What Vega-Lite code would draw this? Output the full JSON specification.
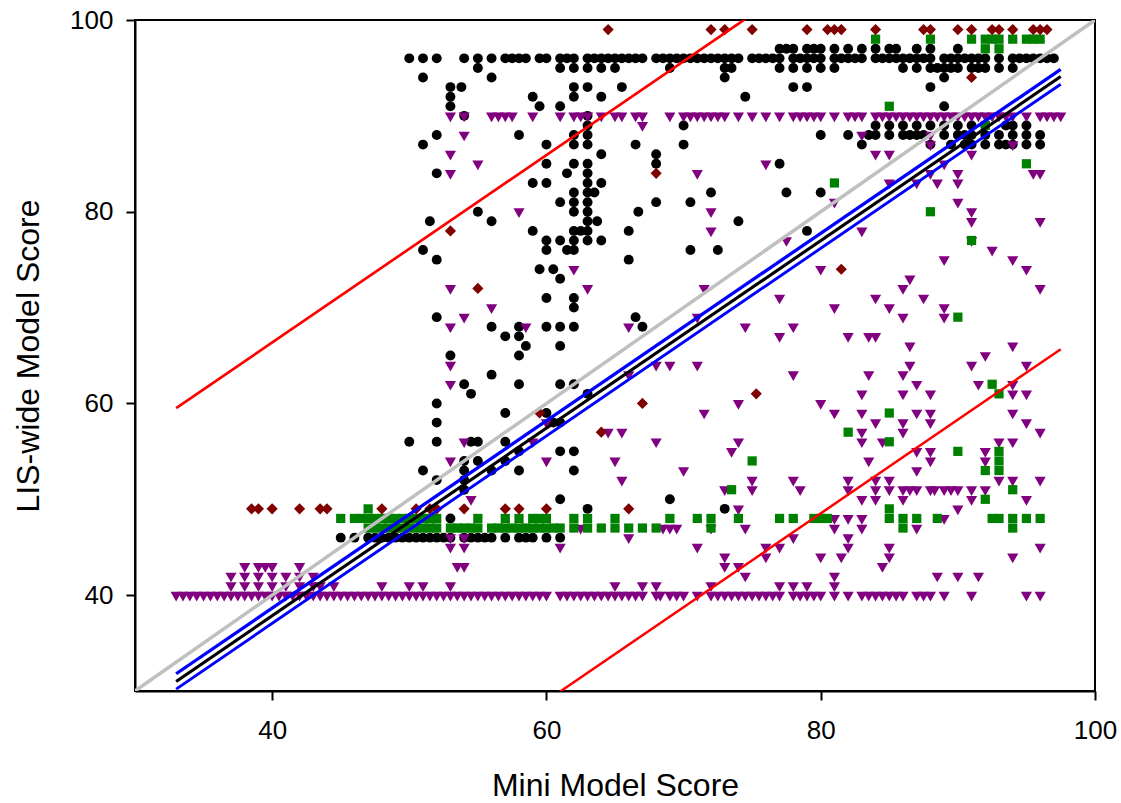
{"$schema":"https://vega.github.io/schema/vega-lite/v6.json","width":960,"height":671,"autosize":{"type":"none"},"padding":{"left":135,"top":20,"right":26,"bottom":112},"background":"white","view":{"stroke":"black","strokeWidth":2,"fill":"white"},"config":{"font":"Liberation Sans"},
"datasets":{
"black":[
{"x":50,"y":96},{"x":51,"y":96},{"x":52,"y":96},{"x":54,"y":96},{"x":55,"y":96},{"x":56,"y":96},{"x":57,"y":96},{"x":57.5,"y":96},{"x":58,"y":96},{"x":58.5,"y":96},{"x":59.5,"y":96},{"x":60,"y":96},{"x":61,"y":96},{"x":61.5,"y":96},{"x":62,"y":96},{"x":63,"y":96},{"x":63.5,"y":96},{"x":64,"y":96},{"x":64.5,"y":96},{"x":65,"y":96},{"x":65.5,"y":96},{"x":66,"y":96},{"x":66.5,"y":96},{"x":67,"y":96},{"x":68,"y":96},{"x":68.5,"y":96},{"x":69,"y":96},{"x":69.5,"y":96},{"x":70,"y":96},{"x":70.5,"y":96},{"x":71,"y":96},{"x":71.5,"y":96},{"x":72,"y":96},{"x":72.5,"y":96},{"x":73,"y":96},{"x":73.5,"y":96},{"x":74,"y":96},{"x":75,"y":96},{"x":75.5,"y":96},{"x":76,"y":96},{"x":76.5,"y":96},{"x":77,"y":96},{"x":78,"y":96},{"x":78.5,"y":96},{"x":79,"y":96},{"x":79.5,"y":96},{"x":80,"y":96},{"x":81,"y":96},{"x":81.5,"y":96},{"x":82,"y":96},{"x":82.5,"y":96},{"x":83,"y":96},{"x":84,"y":96},{"x":84.5,"y":96},{"x":85,"y":96},{"x":85.5,"y":96},{"x":86,"y":96},{"x":86.5,"y":96},{"x":87,"y":96},{"x":87.5,"y":96},{"x":88,"y":96},{"x":89,"y":96},{"x":89.5,"y":96},{"x":90,"y":96},{"x":90.5,"y":96},{"x":91,"y":96},{"x":91.5,"y":96},{"x":92,"y":96},{"x":93,"y":96},{"x":94,"y":96},{"x":94.5,"y":96},{"x":95,"y":96},{"x":95.5,"y":96},{"x":96,"y":96},{"x":96.5,"y":96},{"x":97,"y":96},
{"x":77,"y":97},{"x":77.5,"y":97},{"x":78,"y":97},{"x":79,"y":97},{"x":79.5,"y":97},{"x":80,"y":97},{"x":81,"y":97},{"x":82,"y":97},{"x":83,"y":97},{"x":84,"y":97},{"x":85,"y":97},{"x":85.5,"y":97},{"x":87,"y":97},{"x":88,"y":97},{"x":90,"y":97},
{"x":55,"y":95},{"x":61,"y":95},{"x":62,"y":95},{"x":63,"y":95},{"x":64,"y":95},{"x":65,"y":95},{"x":69,"y":95},{"x":73,"y":95},{"x":73.5,"y":95},{"x":77,"y":95},{"x":78,"y":95},{"x":79,"y":95},{"x":80,"y":95},{"x":81,"y":95},{"x":86,"y":95},{"x":87,"y":95},{"x":88,"y":95},{"x":88.5,"y":95},{"x":89,"y":95},{"x":89.5,"y":95},{"x":90,"y":95},{"x":91,"y":95},{"x":91.5,"y":95},{"x":92,"y":95},{"x":93,"y":95},{"x":94,"y":95},
{"x":51,"y":94},{"x":56,"y":94},{"x":73,"y":94},{"x":89,"y":94},
{"x":53,"y":93},{"x":53.8,"y":93},{"x":62,"y":93},{"x":63,"y":93},{"x":65.5,"y":93},{"x":78,"y":93},{"x":79,"y":93},{"x":88,"y":93},
{"x":53,"y":92},{"x":59,"y":92},{"x":62,"y":92},{"x":64,"y":92},{"x":74.5,"y":92},
{"x":53,"y":91},{"x":59.5,"y":91},{"x":61,"y":91},{"x":89,"y":91},
{"x":54,"y":90},{"x":63,"y":90},
{"x":63,"y":89},{"x":70,"y":89},{"x":84,"y":89},{"x":85,"y":89},{"x":86,"y":89},{"x":87,"y":89},{"x":88,"y":89},{"x":89,"y":89},{"x":90,"y":89},{"x":91,"y":89},{"x":92,"y":89},{"x":93.5,"y":89},{"x":94,"y":89},{"x":95,"y":89},
{"x":52,"y":88},{"x":58,"y":88},{"x":62,"y":88},{"x":63,"y":88},{"x":80,"y":88},{"x":82,"y":88},{"x":83.5,"y":88},{"x":84,"y":88},{"x":85,"y":88},{"x":86,"y":88},{"x":86.5,"y":88},{"x":87,"y":88},{"x":87.5,"y":88},{"x":89,"y":88},{"x":90,"y":88},{"x":90.5,"y":88},{"x":91,"y":88},{"x":92,"y":88},{"x":93,"y":88},{"x":94,"y":88},{"x":95,"y":88},{"x":96,"y":88},
{"x":51,"y":87},{"x":60,"y":87},{"x":62,"y":87},{"x":63,"y":87},{"x":66.5,"y":87},{"x":70,"y":87},{"x":83,"y":87},{"x":88,"y":87},{"x":89.5,"y":87},{"x":90.5,"y":87},{"x":91,"y":87},{"x":92,"y":87},{"x":93,"y":87},{"x":93.5,"y":87},{"x":94,"y":87},{"x":95,"y":87},{"x":96,"y":87},
{"x":64,"y":86},{"x":68,"y":86},
{"x":60,"y":85},{"x":62,"y":85},{"x":63,"y":85},{"x":68,"y":85},{"x":77,"y":85},
{"x":52,"y":84},{"x":61.5,"y":84},{"x":63,"y":84},
{"x":59,"y":83},{"x":60,"y":83},{"x":63,"y":83},{"x":64,"y":83},
{"x":62,"y":82},{"x":63,"y":82},{"x":63.5,"y":82},{"x":72,"y":82},{"x":77.5,"y":82},{"x":80,"y":82},
{"x":61,"y":81},{"x":62,"y":81},{"x":63,"y":81},{"x":68,"y":81},{"x":70.5,"y":81},
{"x":55,"y":80},{"x":62,"y":80},{"x":63,"y":80},{"x":66.7,"y":80},
{"x":51.5,"y":79},{"x":56,"y":79},{"x":63,"y":79},{"x":63.7,"y":79},{"x":74,"y":79},
{"x":59,"y":78},{"x":62,"y":78},{"x":62.5,"y":78},{"x":63,"y":78},{"x":66,"y":78},{"x":79,"y":78},
{"x":60,"y":77},{"x":61,"y":77},{"x":62,"y":77},{"x":63,"y":77},{"x":64,"y":77},
{"x":51,"y":76},{"x":60,"y":76},{"x":61.5,"y":76},{"x":62,"y":76},{"x":70.5,"y":76},{"x":72.5,"y":76},
{"x":52,"y":75},{"x":66,"y":75},
{"x":59.5,"y":74},{"x":60.5,"y":74},{"x":61,"y":73},
{"x":60,"y":71},{"x":62,"y":71},{"x":62,"y":70},
{"x":52,"y":69},{"x":66.5,"y":69},
{"x":56,"y":68},{"x":58,"y":68},{"x":60,"y":68},{"x":61,"y":68},{"x":62,"y":68},{"x":67,"y":68},
{"x":57,"y":67},{"x":58,"y":67},{"x":58.5,"y":66},{"x":61,"y":66},
{"x":53,"y":65},{"x":58,"y":65},{"x":56,"y":63},
{"x":54,"y":62},{"x":58,"y":62},{"x":61,"y":62},{"x":62,"y":62},
{"x":54.5,"y":61},{"x":63,"y":61},{"x":52,"y":60},
{"x":57,"y":59},{"x":60,"y":59},
{"x":52,"y":58},{"x":60.5,"y":58},{"x":61,"y":58},
{"x":50,"y":56},{"x":52,"y":56},{"x":54.5,"y":56},{"x":55,"y":56},{"x":57,"y":56},
{"x":58,"y":55},{"x":61,"y":55},{"x":62,"y":55},
{"x":54,"y":54},{"x":55,"y":54},{"x":57,"y":54},
{"x":51,"y":53},{"x":54,"y":53},{"x":56,"y":53},{"x":58,"y":53},{"x":62,"y":53},
{"x":52,"y":52},{"x":54,"y":52},{"x":54,"y":51},
{"x":61,"y":50},{"x":69,"y":50},{"x":63,"y":49},{"x":73,"y":49},{"x":53,"y":48},
{"x":45,"y":46},{"x":46,"y":46},{"x":47,"y":46},{"x":47.5,"y":46},{"x":48,"y":46},{"x":48.5,"y":46},{"x":49,"y":46},{"x":49.5,"y":46},{"x":50,"y":46},{"x":50.5,"y":46},{"x":51,"y":46},{"x":51.5,"y":46},{"x":52,"y":46},{"x":52.5,"y":46},{"x":53,"y":46},{"x":54,"y":46},{"x":54.5,"y":46},{"x":55,"y":46},{"x":55.5,"y":46},{"x":56,"y":46},{"x":57,"y":46},{"x":58,"y":46},{"x":58.5,"y":46},{"x":59,"y":46},{"x":60,"y":46},{"x":61,"y":46}
],
"purple":[
{"x":33,"y":40},{"x":33.5,"y":40},{"x":34,"y":40},{"x":34.5,"y":40},{"x":35,"y":40},{"x":35.5,"y":40},{"x":36,"y":40},{"x":36.5,"y":40},{"x":37,"y":40},{"x":37.5,"y":40},{"x":38,"y":40},{"x":38.5,"y":40},{"x":39,"y":40},{"x":39.5,"y":40},{"x":40,"y":40},{"x":40.5,"y":40},{"x":41,"y":40},{"x":41.5,"y":40},{"x":42,"y":40},{"x":42.5,"y":40},{"x":43,"y":40},{"x":43.5,"y":40},{"x":44,"y":40},{"x":44.5,"y":40},{"x":45,"y":40},{"x":45.5,"y":40},{"x":46,"y":40},{"x":46.5,"y":40},{"x":47,"y":40},{"x":47.5,"y":40},{"x":48,"y":40},{"x":48.5,"y":40},{"x":49,"y":40},{"x":49.5,"y":40},{"x":50,"y":40},{"x":50.5,"y":40},{"x":51,"y":40},{"x":51.5,"y":40},{"x":52,"y":40},{"x":52.5,"y":40},{"x":53,"y":40},{"x":53.5,"y":40},{"x":54,"y":40},{"x":54.5,"y":40},{"x":55,"y":40},{"x":55.5,"y":40},{"x":56,"y":40},{"x":56.5,"y":40},{"x":57,"y":40},{"x":57.5,"y":40},{"x":58,"y":40},{"x":58.5,"y":40},{"x":59,"y":40},{"x":59.5,"y":40},{"x":60,"y":40},{"x":61,"y":40},{"x":61.5,"y":40},{"x":62,"y":40},{"x":62.5,"y":40},{"x":63,"y":40},{"x":63.5,"y":40},{"x":64,"y":40},{"x":64.5,"y":40},{"x":65,"y":40},{"x":65.5,"y":40},{"x":66,"y":40},{"x":66.5,"y":40},{"x":67,"y":40},{"x":68,"y":40},{"x":68.3,"y":40},{"x":69,"y":40},{"x":69.5,"y":40},{"x":70,"y":40},{"x":71,"y":40},{"x":72,"y":40},{"x":72.5,"y":40},{"x":73,"y":40},{"x":73.5,"y":40},{"x":74,"y":40},{"x":74.5,"y":40},{"x":75,"y":40},{"x":75.5,"y":40},{"x":76,"y":40},{"x":76.5,"y":40},{"x":77,"y":40},{"x":78,"y":40},{"x":78.5,"y":40},{"x":79,"y":40},{"x":79.5,"y":40},{"x":80,"y":40},{"x":81,"y":40},{"x":82,"y":40},{"x":83,"y":40},{"x":83.5,"y":40},{"x":84,"y":40},{"x":84.5,"y":40},{"x":85,"y":40},{"x":85.5,"y":40},{"x":86,"y":40},{"x":87,"y":40},{"x":87.5,"y":40},{"x":88,"y":40},{"x":89,"y":40},{"x":91,"y":40},{"x":95,"y":40},{"x":96,"y":40},
{"x":37,"y":41},{"x":38,"y":41},{"x":39,"y":41},{"x":40,"y":41},{"x":41,"y":41},{"x":42,"y":41},{"x":43,"y":41},{"x":43.5,"y":41},{"x":44.5,"y":41},{"x":48,"y":41},{"x":50,"y":41},{"x":51,"y":41},{"x":53,"y":41},{"x":65,"y":41},{"x":67,"y":41},{"x":68,"y":41},{"x":72,"y":41},{"x":77,"y":41},{"x":78,"y":41},{"x":79,"y":41},{"x":81,"y":41},
{"x":37,"y":42},{"x":38,"y":42},{"x":39,"y":42},{"x":40,"y":42},{"x":41,"y":42},{"x":42,"y":42},{"x":43,"y":42},{"x":74.5,"y":42},{"x":81,"y":42},{"x":88.5,"y":42},{"x":90,"y":42},{"x":91.5,"y":42},
{"x":38,"y":43},{"x":39,"y":43},{"x":39.5,"y":43},{"x":40,"y":43},{"x":42,"y":43},{"x":53.5,"y":43},{"x":54,"y":43},{"x":73,"y":43},{"x":74,"y":43},{"x":84.5,"y":43},
{"x":73,"y":44},{"x":76,"y":44},{"x":80,"y":44},{"x":81.5,"y":44},{"x":85,"y":44},{"x":94,"y":44},
{"x":53,"y":45},{"x":54,"y":45},{"x":61,"y":45},{"x":71,"y":45},{"x":76,"y":45},{"x":77,"y":45},{"x":82,"y":45},{"x":85,"y":45},{"x":96,"y":45},
{"x":53,"y":46},{"x":54,"y":46},{"x":66,"y":46},{"x":78,"y":46},{"x":82,"y":46},
{"x":62.5,"y":47},{"x":68.5,"y":47},{"x":69,"y":47},{"x":69.5,"y":47},{"x":72,"y":47},{"x":74.5,"y":47},{"x":81,"y":47},{"x":83,"y":47},{"x":87,"y":47},
{"x":81,"y":48},{"x":82,"y":48},{"x":83,"y":48},{"x":89,"y":48},
{"x":74,"y":49},{"x":90,"y":49},
{"x":54.5,"y":50},{"x":83,"y":50},{"x":84,"y":50},{"x":86,"y":50},{"x":91,"y":50},{"x":95,"y":50},
{"x":73,"y":51},{"x":75,"y":51},{"x":78.5,"y":51},{"x":82,"y":51},{"x":84,"y":51},{"x":85,"y":51},{"x":86,"y":51},{"x":86.5,"y":51},{"x":87,"y":51},{"x":88,"y":51},{"x":88.3,"y":51},{"x":89,"y":51},{"x":89.5,"y":51},{"x":90,"y":51},{"x":91,"y":51},{"x":92,"y":51},
{"x":65.5,"y":52},{"x":75,"y":52},{"x":78,"y":52},{"x":82,"y":52},{"x":84,"y":52},{"x":85,"y":52},{"x":93,"y":52},{"x":94,"y":52},{"x":96,"y":52},
{"x":70,"y":53},{"x":87,"y":53},
{"x":53,"y":54},{"x":60,"y":54},{"x":65,"y":54},{"x":83.5,"y":54},{"x":88,"y":54},{"x":92,"y":54},
{"x":73.5,"y":55},{"x":87,"y":55},{"x":88,"y":55},{"x":92,"y":55},
{"x":54,"y":56},{"x":59,"y":56},{"x":68,"y":56},{"x":74,"y":56},{"x":83,"y":56},{"x":84.5,"y":56},{"x":93,"y":56},{"x":94,"y":56},
{"x":64.5,"y":57},{"x":65.5,"y":57},{"x":83,"y":57},{"x":86,"y":57},{"x":96,"y":57},
{"x":60,"y":58},{"x":84,"y":58},{"x":86,"y":58},{"x":88,"y":58},{"x":95,"y":58},
{"x":71.5,"y":59},{"x":81,"y":59},{"x":83,"y":59},{"x":87,"y":59},{"x":88,"y":59},{"x":94,"y":59},
{"x":74,"y":60},{"x":80,"y":60},
{"x":83,"y":61},{"x":86,"y":61},{"x":88,"y":61},{"x":94,"y":61},{"x":95,"y":61},
{"x":53,"y":62},{"x":87,"y":62},{"x":91.5,"y":62},{"x":94,"y":62},
{"x":66,"y":63},{"x":78,"y":63},{"x":83.5,"y":63},{"x":86,"y":63},
{"x":53,"y":64},{"x":68,"y":64},{"x":69,"y":64},{"x":71,"y":64},{"x":86.5,"y":64},{"x":91,"y":64},{"x":95,"y":64},
{"x":92,"y":65},{"x":86.5,"y":66},{"x":94,"y":66},
{"x":77,"y":67},{"x":82,"y":67},{"x":83.5,"y":67},{"x":84,"y":67},
{"x":53,"y":68},{"x":58.5,"y":68},{"x":66,"y":68},{"x":74.5,"y":68},{"x":78,"y":68},
{"x":54,"y":69},{"x":71,"y":69},{"x":86,"y":69},{"x":89,"y":69},
{"x":56,"y":70},{"x":81,"y":70},{"x":85,"y":70},{"x":89,"y":70},
{"x":77,"y":71},{"x":84,"y":71},{"x":87.5,"y":71},
{"x":53,"y":72},{"x":63,"y":72},{"x":71.5,"y":72},{"x":86,"y":72},{"x":96,"y":72},
{"x":86.5,"y":73},{"x":62,"y":74},{"x":80,"y":74},{"x":95,"y":74},
{"x":89,"y":75},{"x":94,"y":75},{"x":92.5,"y":76},
{"x":77.5,"y":77},{"x":91,"y":77},{"x":72,"y":78},{"x":83,"y":78},
{"x":91,"y":79},{"x":96,"y":79},{"x":58,"y":80},{"x":72,"y":80},{"x":91,"y":80},
{"x":81,"y":81},{"x":90,"y":81},{"x":85,"y":83},{"x":87,"y":83},{"x":88.5,"y":83},{"x":90,"y":83},
{"x":53,"y":84},{"x":71,"y":84},{"x":88,"y":84},{"x":90,"y":84},{"x":95.5,"y":84},{"x":96,"y":84},
{"x":55,"y":85},{"x":76,"y":85},{"x":89,"y":85},{"x":53,"y":86},{"x":84,"y":86},{"x":85,"y":86},{"x":91,"y":86},
{"x":88,"y":87},{"x":94,"y":87},{"x":54,"y":88},{"x":83,"y":88},{"x":88,"y":88},{"x":67,"y":89},
{"x":53,"y":90},{"x":54,"y":90},{"x":56,"y":90},{"x":56.5,"y":90},{"x":57,"y":90},{"x":57.5,"y":90},{"x":59,"y":90},{"x":61,"y":90},{"x":62,"y":90},{"x":62.5,"y":90},{"x":63,"y":90},{"x":64,"y":90},{"x":65,"y":90},{"x":65.5,"y":90},{"x":66.5,"y":90},{"x":67,"y":90},{"x":69,"y":90},{"x":70,"y":90},{"x":70.5,"y":90},{"x":71,"y":90},{"x":71.5,"y":90},{"x":72,"y":90},{"x":72.5,"y":90},{"x":73,"y":90},{"x":74,"y":90},{"x":75,"y":90},{"x":76,"y":90},{"x":77,"y":90},{"x":78,"y":90},{"x":78.5,"y":90},{"x":79,"y":90},{"x":79.5,"y":90},{"x":80,"y":90},{"x":81,"y":90},{"x":82,"y":90},{"x":82.5,"y":90},{"x":83,"y":90},{"x":84,"y":90},{"x":84.5,"y":90},{"x":85,"y":90},{"x":85.5,"y":90},{"x":86,"y":90},{"x":86.5,"y":90},{"x":87,"y":90},{"x":87.5,"y":90},{"x":88,"y":90},{"x":88.5,"y":90},{"x":89,"y":90},{"x":89.5,"y":90},{"x":90,"y":90},{"x":90.5,"y":90},{"x":91,"y":90},{"x":91.5,"y":90},{"x":92,"y":90},{"x":92.5,"y":90},{"x":93,"y":90},{"x":93.5,"y":90},{"x":94,"y":90},{"x":95,"y":90},{"x":96,"y":90},{"x":96.5,"y":90},{"x":97,"y":90},{"x":97.5,"y":90}
],
"green":[
{"x":45,"y":48},{"x":46,"y":48},{"x":46.5,"y":48},{"x":47,"y":48},{"x":47.5,"y":48},{"x":48,"y":48},{"x":48.5,"y":48},{"x":49,"y":48},{"x":49.5,"y":48},{"x":50,"y":48},{"x":50.5,"y":48},{"x":51,"y":48},{"x":51.5,"y":48},{"x":52,"y":48},{"x":55,"y":48},{"x":57,"y":48},{"x":58,"y":48},{"x":59,"y":48},{"x":59.5,"y":48},{"x":60,"y":48},{"x":62,"y":48},{"x":63,"y":48},{"x":65,"y":48},{"x":69,"y":48},{"x":71,"y":48},{"x":72,"y":48},{"x":74,"y":48},{"x":77,"y":48},{"x":78,"y":48},{"x":79.5,"y":48},{"x":80,"y":48},{"x":80.5,"y":48},{"x":85,"y":48},{"x":86,"y":48},{"x":87,"y":48},{"x":88.5,"y":48},{"x":92.5,"y":48},{"x":93,"y":48},{"x":94,"y":48},{"x":95,"y":48},{"x":96,"y":48},
{"x":47,"y":49},{"x":85,"y":49},
{"x":47,"y":47},{"x":47.5,"y":47},{"x":48,"y":47},{"x":48.5,"y":47},{"x":49,"y":47},{"x":49.5,"y":47},{"x":50,"y":47},{"x":50.5,"y":47},{"x":51,"y":47},{"x":51.5,"y":47},{"x":52,"y":47},{"x":53,"y":47},{"x":53.5,"y":47},{"x":54,"y":47},{"x":54.5,"y":47},{"x":55,"y":47},{"x":56,"y":47},{"x":56.5,"y":47},{"x":57,"y":47},{"x":57.5,"y":47},{"x":58,"y":47},{"x":58.5,"y":47},{"x":59,"y":47},{"x":59.5,"y":47},{"x":60,"y":47},{"x":60.5,"y":47},{"x":61,"y":47},{"x":62,"y":47},{"x":63,"y":47},{"x":64,"y":47},{"x":65,"y":47},{"x":66,"y":47},{"x":67,"y":47},{"x":68,"y":47},{"x":72,"y":47},{"x":86,"y":47},{"x":94,"y":47},
{"x":73.5,"y":51},{"x":94,"y":51},{"x":92,"y":50},{"x":75,"y":54},{"x":92,"y":53},{"x":93,"y":53},{"x":93,"y":54},{"x":90,"y":55},{"x":93,"y":55},{"x":85,"y":56},{"x":82,"y":57},{"x":85,"y":59},{"x":92.5,"y":62},{"x":93,"y":61},{"x":90,"y":69},{"x":91,"y":77},{"x":88,"y":80},{"x":81,"y":83},{"x":95,"y":85},{"x":85,"y":91},{"x":92,"y":89},{"x":92,"y":97},{"x":93,"y":97},
{"x":84,"y":98},{"x":88,"y":98},{"x":91,"y":98},{"x":92,"y":98},{"x":92.5,"y":98},{"x":93,"y":98},{"x":94,"y":98},{"x":95,"y":98},{"x":95.5,"y":98},{"x":96,"y":98}
],
"maroon":[
{"x":38.5,"y":49},{"x":39,"y":49},{"x":40,"y":49},{"x":42,"y":49},{"x":43.5,"y":49},{"x":44,"y":49},{"x":48,"y":49},{"x":50.5,"y":49},{"x":51.5,"y":49},{"x":52,"y":49},{"x":54,"y":49},{"x":57,"y":49},{"x":58,"y":49},{"x":60,"y":49},{"x":66,"y":49},
{"x":64,"y":57},{"x":59.5,"y":59},{"x":67,"y":60},{"x":75.3,"y":61},{"x":55,"y":72},{"x":81.5,"y":74},{"x":53,"y":78},{"x":68,"y":84},{"x":91,"y":94},
{"x":64.5,"y":99},{"x":72,"y":99},{"x":73,"y":99},{"x":75,"y":99},{"x":79,"y":99},{"x":80.5,"y":99},{"x":81,"y":99},{"x":81.5,"y":99},{"x":84,"y":99},{"x":87.5,"y":99},{"x":88,"y":99},{"x":90,"y":99},{"x":91,"y":99},{"x":92.5,"y":99},{"x":93,"y":99},{"x":94,"y":99},{"x":95.5,"y":99},{"x":96,"y":99},{"x":96.5,"y":99}
],
"lines":[
{"l":"grey","x":30,"y":30},{"l":"grey","x":100,"y":100},
{"l":"ub","x":33,"y":31.8},{"l":"ub","x":97.5,"y":94.85},
{"l":"mean","x":33,"y":31},{"l":"mean","x":97.5,"y":94.1},
{"l":"lb","x":33,"y":30.2},{"l":"lb","x":97.5,"y":93.3},
{"l":"r1","x":33,"y":59.5},{"l":"r1","x":97.5,"y":122.6},
{"l":"r2","x":33,"y":2.55},{"l":"r2","x":97.5,"y":65.65}
]},
"layer":[
{"data":{"name":"black"},"mark":{"type":"point","shape":"circle","filled":true,"opacity":1,"size":98,"color":"#000000"},"encoding":{"x":{"field":"x","type":"quantitative","scale":{"domain":[30,100],"nice":false},"axis":{"values":[40,60,80,100],"grid":false,"labelFlush":false,"title":"Mini Model Score","titleFontSize":32,"titleFont":"Liberation Sans","titleFontWeight":"normal","titleColor":"black","titlePadding":27,"labelFontSize":26,"labelFont":"Liberation Sans","labelColor":"black","labelPadding":17,"tickSize":9,"tickWidth":2,"tickColor":"black","domainColor":"black","domainWidth":2}},"y":{"field":"y","type":"quantitative","scale":{"domain":[30,100],"nice":false},"axis":{"values":[40,60,80,100],"grid":false,"labelFlush":false,"title":"LIS-wide Model Score","titleFontSize":32,"titleFont":"Liberation Sans","titleFontWeight":"normal","titleColor":"black","titlePadding":24,"labelFontSize":26,"labelFont":"Liberation Sans","labelColor":"black","labelPadding":13,"tickSize":9,"tickWidth":2,"tickColor":"black","domainColor":"black","domainWidth":2}}}},
{"data":{"name":"purple"},"mark":{"type":"point","shape":"triangle-down","filled":true,"opacity":1,"size":125,"yOffset":1.5,"color":"#800080"},"encoding":{"x":{"field":"x","type":"quantitative"},"y":{"field":"y","type":"quantitative"}}},
{"data":{"name":"green"},"mark":{"type":"point","shape":"square","filled":true,"opacity":1,"size":85,"color":"#008000"},"encoding":{"x":{"field":"x","type":"quantitative"},"y":{"field":"y","type":"quantitative"}}},
{"data":{"name":"maroon"},"mark":{"type":"point","shape":"diamond","filled":true,"opacity":1,"size":125,"color":"#800000"},"encoding":{"x":{"field":"x","type":"quantitative"},"y":{"field":"y","type":"quantitative"}}},
{"data":{"name":"lines"},"mark":{"type":"line","clip":true},"encoding":{"x":{"field":"x","type":"quantitative"},"y":{"field":"y","type":"quantitative"},"detail":{"field":"l"},"strokeWidth":{"field":"l","type":"nominal","legend":null,"scale":{"domain":["grey","ub","mean","lb","r1","r2"],"range":[3.5,2.5,2.5,2.5,2.5,2.5]}},"color":{"field":"l","type":"nominal","legend":null,"scale":{"domain":["grey","ub","mean","lb","r1","r2"],"range":["#c0c0c0","#0000ff","#000000","#0000ff","#ff0000","#ff0000"]}},"order":{"field":"x"}}}
]}
